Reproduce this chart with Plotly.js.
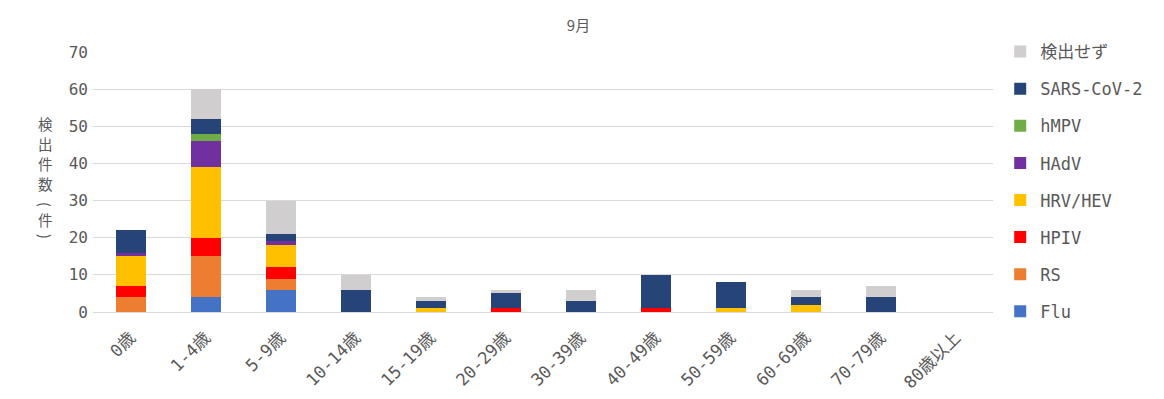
<!DOCTYPE html>
<html><head><meta charset="utf-8">
<script src="https://cdn.plot.ly/plotly-3.0.1.min.js"></script>
<style>body{margin:0;background:#fff}#chart{width:1164px;height:399px}</style>
</head><body><div id="chart"></div>
<script>
const categories = ["0歳","1-4歳","5-9歳","10-14歳","15-19歳","20-29歳","30-39歳","40-49歳","50-59歳","60-69歳","70-79歳","80歳以上"];
const seriesNames = ["Flu","RS","HPIV","HRV/HEV","HAdV","hMPV","SARS-CoV-2","検出せず"];
const flu    = [0,4,6,0,0,0,0,0,0,0,0,0];
const rs     = [4,11,3,0,0,0,0,0,0,0,0,0];
const hpiv   = [3,5,3,0,0,1,0,1,0,0,0,0];
const hrv    = [8,19,6,0,1,0,0,0,1,2,0,0];
const hadv   = [1,7,1,0,0,0,0,0,0,0,0,0];
const hmpv   = [0,2,0,0,0,0,0,0,0,0,0,0];
const sars   = [6,4,2,6,2,4,3,9,7,2,4,0];
const none   = [0,8,9,4,1,1,3,0,0,2,3,0];
const yTicks = [0,10,20,30,40,50,60,70];
const yTitleChars = ["検","出","件","数","(","件",")"];
const colors = ["#4472C4","#ED7D31","#FF0000","#FFC000","#7030A0","#70AD47","#264478","#D0CECE"];
const values = [flu,rs,hpiv,hrv,hadv,hmpv,sars,none];

const font = '"DejaVu Sans Mono", "Noto Sans CJK JP", sans-serif';
const jfont = '"Noto Sans CJK JP", sans-serif';
const traces = values.map((v,i)=>({
  type:'bar', x:categories, y:v, name:seriesNames[i],
  marker:{color:colors[i]}, legendgroup:'g'+i, legendrank:100-i, hoverinfo:'x+y+name'
}));

// vertical y-axis title, one character per annotation (pixel rows measured from plot top)
const plotTop = 52, plotH = 260;
const charRows = [123,143,163,183,204,220,236];
const annotations = yTitleChars.map((c,i)=>({
  text:c, xref:'paper', yref:'paper', x:-0.0533, y:(plotTop+plotH-charRows[i])/plotH,
  xanchor:'center', yanchor:'middle', showarrow:false,
  textangle:(c==='('||c===')')?90:0,
  font:{size:14.5, color:'#595959', family:jfont}
}));

const layout = {
  width:1164, height:399,
  barmode:'stack', bargap:0.6,
  margin:{l:93, r:171, t:52, b:87},
  paper_bgcolor:'#fff', plot_bgcolor:'#fff',
  font:{family:font, color:'#595959', size:15},
  title:{text:'9月', x:0.497, xanchor:'center', y:0.935, yanchor:'middle', font:{size:15, color:'#595959', family:jfont}},
  xaxis:{tickangle:-45, showgrid:false, linecolor:'#d9d9d9', showline:true, ticks:'', tickfont:{size:17}, ticklabelstandoff:8},
  yaxis:{range:[0,70], tickvals:yTicks, showgrid:true, gridcolor:'#d9d9d9', zeroline:false, ticks:'', tickfont:{size:16}, ticklabelstandoff:4, automargin:false},
  legend:{x:1.008, xanchor:'left', y:1.069, yanchor:'top', traceorder:'grouped', tracegroupgap:12, maxheight:1, font:{size:17, color:'#595959'}},
  annotations:annotations
};
Plotly.newPlot('chart', traces, layout, {displayModeBar:false});
</script></body></html>
